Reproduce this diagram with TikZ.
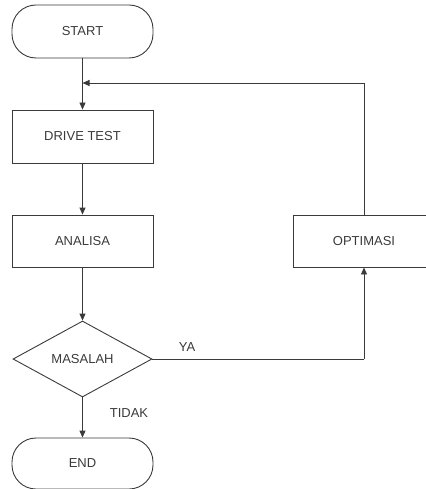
\documentclass[tikz,border=0pt]{standalone}
\usepackage{fontspec}
\setmainfont{Liberation Sans}
\usetikzlibrary{arrows.meta,shapes.geometric}
\definecolor{ln}{HTML}{3A3A3A}
\begin{document}
\begin{tikzpicture}[x=1pt,y=-1pt,
  every node/.style={font=\fontsize{13}{15}\selectfont, text=ln},
  proc/.style={draw=ln, line width=0.9pt, minimum width=141pt, minimum height=53pt, inner sep=0pt},
  term/.style={proc, rounded corners=24pt},
  dec/.style={draw=ln, line width=0.9pt, diamond, minimum width=139pt, minimum height=76pt, inner sep=0pt},
  conn/.style={draw=ln, line width=0.9pt},
  arr/.style={conn, -{Triangle[length=7pt,width=6pt]}},
  lbl/.style={inner sep=0pt}]
\useasboundingbox (0,0) rectangle (425,489);
\node[term] (start) at (82.5,31.5) {START};
\node[proc] (drive) at (82.5,136.5) {DRIVE TEST};
\node[proc, minimum height=52pt] (analisa) at (82.5,241) {ANALISA};
\node[dec] (masalah) at (82.5,359) {MASALAH};
\node[term, minimum height=51pt] (end) at (82.5,463.5) {END};
\node[proc, minimum height=52pt] (opt) at (364,241) {OPTIMASI};
\coordinate (join) at (82.5,83);
\coordinate (tr) at (364,83);
\coordinate (br) at (364,359);
\draw[arr] (start) -- (drive);
\draw[arr] (drive) -- (analisa);
\draw[arr] (analisa) -- (masalah);
\draw[arr] (masalah) -- (end);
\draw[conn] (masalah.east) -- (br);
\draw[arr] (br) -- (opt.south);
\draw[arr] (opt.north) -- (tr) -- (join);
\node[lbl] (ya) at (187,347) {YA};
\node[lbl] (tidak) at (129,413) {TIDAK};
\end{tikzpicture}
\end{document}
